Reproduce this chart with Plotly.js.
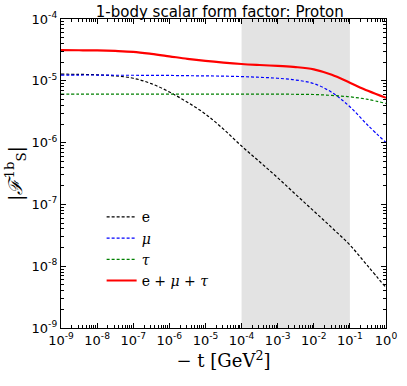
<!DOCTYPE html>
<html>
<head>
<meta charset="utf-8">
<script src="https://cdn.plot.ly/plotly-3.0.1.min.js"></script>
<style>
  html, body { margin: 0; padding: 0; background: #fff; }
  #graph { width: 407px; height: 386px; }
</style>
</head>
<body>
<div id="graph"></div>
<script>
// -t values (GeV^2), half-decade steps from 1e-9 to 1
const tValues = [1e-9, 3.16e-9, 1e-8, 3.16e-8, 1e-7, 3.16e-7, 1e-6, 3.16e-6, 1e-5, 3.16e-5,
                 1e-4, 3.16e-4, 1e-3, 3.16e-3, 1e-2, 3.16e-2, 1e-1, 3.16e-1, 1];

// Form factor
const electron = [1.28e-5, 1.27e-5, 1.25e-5, 1.2e-5, 1.1e-5, 9.0e-6, 6.6e-6, 4.5e-6, 2.9e-6, 1.65e-6,
                  8.8e-7, 4.9e-7, 2.7e-7, 1.45e-7, 7.8e-8, 4.2e-8, 2.2e-8, 1.0e-8, 4.5e-9];
const muon     = [1.24e-5, 1.24e-5, 1.24e-5, 1.23e-5, 1.23e-5, 1.22e-5, 1.22e-5, 1.21e-5, 1.2e-5, 1.19e-5,
                  1.17e-5, 1.14e-5, 1.1e-5, 1.03e-5, 9.0e-6, 6.5e-6, 3.8e-6, 1.9e-6, 1.0e-6];
const tau      = [6.1e-6, 6.1e-6, 6.1e-6, 6.1e-6, 6.1e-6, 6.1e-6, 6.1e-6, 6.1e-6, 6.1e-6, 6.1e-6,
                  6.1e-6, 6.1e-6, 6.1e-6, 6.05e-6, 6.0e-6, 5.8e-6, 5.5e-6, 5.0e-6, 4.3e-6];
const total    = [3.13e-5, 3.12e-5, 3.1e-5, 3.04e-5, 2.94e-5, 2.73e-5, 2.49e-5, 2.27e-5, 2.1e-5, 1.97e-5,
                  1.87e-5, 1.8e-5, 1.74e-5, 1.67e-5, 1.53e-5, 1.25e-5, 9.3e-6, 6.9e-6, 5.3e-6];

const seriesNames = ['e', '<i>μ</i>', '<i>τ</i>', 'e + <i>μ</i> + <i>τ</i>'];

// tick labels
const xTickVals = [1e-9, 1e-8, 1e-7, 1e-6, 1e-5, 1e-4, 1e-3, 1e-2, 1e-1, 1];
const xTickText = ['10<sup>-9</sup>', '10<sup>-8</sup>', '10<sup>-7</sup>', '10<sup>-6</sup>', '10<sup>-5</sup>',
                   '10<sup>-4</sup>', '10<sup>-3</sup>', '10<sup>-2</sup>', '10<sup>-1</sup>', '10<sup>0</sup>'];
const yTickVals = [1e-9, 1e-8, 1e-7, 1e-6, 1e-5, 1e-4];
const yTickText = ['10<sup>-9</sup>', '10<sup>-8</sup>', '10<sup>-7</sup>', '10<sup>-6</sup>', '10<sup>-5</sup>', '10<sup>-4</sup>'];

// shaded band in -t
const band = [1e-4, 1e-1];

const dashLine = (color) => ({ color: color, width: 1.2, dash: '3px,2px' });

const traces = [
  { x: tValues, y: electron, name: seriesNames[0], mode: 'lines', line: dashLine('#000000') },
  { x: tValues, y: muon, name: seriesNames[1], mode: 'lines', line: dashLine('#0000ff') },
  { x: tValues, y: tau, name: seriesNames[2], mode: 'lines', line: dashLine('#008000') },
  { x: tValues, y: total, name: seriesNames[3], mode: 'lines', line: { color: '#ff0000', width: 2.2 } }
];
traces.forEach(t => { t.type = 'scatter'; t.line.shape = 'spline'; });

const axisCommon = {
  type: 'log',
  showline: true,
  linecolor: '#000',
  linewidth: 1.2,
  mirror: 'allticks',
  ticks: 'inside',
  ticklen: 5,
  tickcolor: '#000',
  tickmode: 'array',
  tickangle: 0,
  showgrid: false,
  zeroline: false,
  tickfont: { family: 'DejaVu Sans', size: 13, color: '#000' },
  minor: { ticks: 'inside', ticklen: 3, tickcolor: '#000', dtick: 'D1', showgrid: false }
};

const layout = {
  width: 407,
  height: 386,
  margin: { l: 61, r: 21, t: 19, b: 58 },
  paper_bgcolor: '#fff',
  plot_bgcolor: '#fff',
  showlegend: true,
  title: {
    text: '1-body scalar form factor: Proton',
    font: { family: 'DejaVu Sans', size: 15, color: '#000' },
    x: 0.54, xanchor: 'center', y: 0.982, yanchor: 'top'
  },
  xaxis: Object.assign({}, axisCommon, {
    range: [-9, 0],
    tickvals: xTickVals, ticktext: xTickText,
    title: { text: '− t [GeV<sup>2</sup>]', font: { family: 'DejaVu Serif', size: 18, color: '#000' }, standoff: 2 }
  }),
  yaxis: Object.assign({}, axisCommon, {
    range: [-9, -4],
    tickvals: yTickVals, ticktext: yTickText,
    title: { text: '|<i>ℱ</i><sup>1b</sup><sub>S</sub>|', font: { family: 'DejaVu Serif', size: 19, color: '#000' }, standoff: 4 }
  }),
  legend: {
    x: 0.125, y: 0.41, xanchor: 'left', yanchor: 'top',
    bgcolor: 'rgba(0,0,0,0)',
    font: { family: 'DejaVu Serif', size: 14, color: '#000' },
    itemwidth: 30
  },
  shapes: [{
    type: 'rect', xref: 'x', yref: 'paper',
    x0: band[0], x1: band[1], y0: 0, y1: 1,
    fillcolor: '#e3e3e3', line: { width: 0 }, layer: 'below'
  }]
};

Plotly.newPlot('graph', traces, layout, { displayModeBar: false, staticPlot: true });
</script>
</body>
</html>
